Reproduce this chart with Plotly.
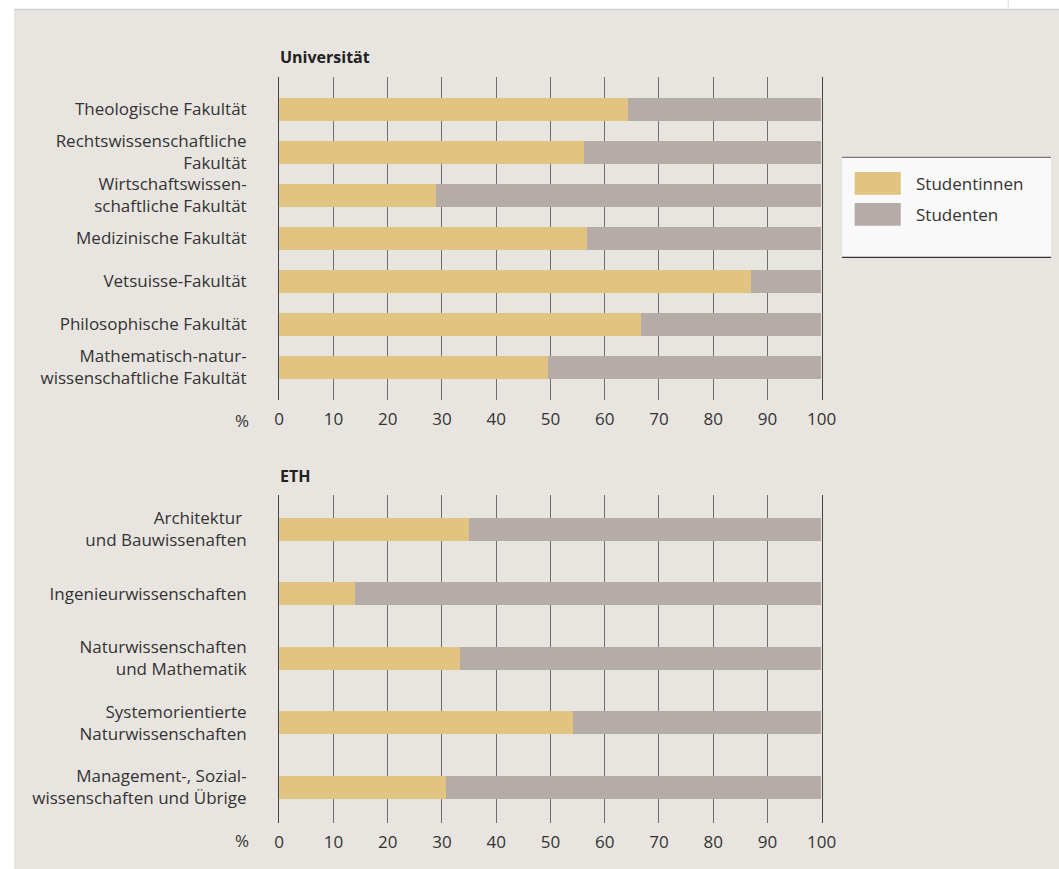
import plotly.graph_objects as go

W, H = 1059, 869
PAGE_W = 1074  # rendered page is squeezed horizontally into the 1059-wide picture

uni_categories = [
    "Theologische Fakultät",
    "Rechtswissenschaftliche<br>Fakultät",
    "Wirtschaftswissen-<br>schaftliche Fakultät",
    "Medizinische Fakultät",
    "Vetsuisse-Fakultät",
    "Philosophische Fakultät",
    "Mathematisch-natur-<br>wissenschaftliche Fakultät",
]
uni_female = [64.3, 56.3, 28.9, 56.8, 87.1, 66.7, 49.6]
uni_male = [round(100 - v, 1) for v in uni_female]

eth_categories = [
    "Architektur <br>und Bauwissenaften",
    "Ingenieurwissenschaften",
    "Naturwissenschaften<br>und Mathematik",
    "Systemorientierte<br>Naturwissenschaften",
    "Management-, Sozial-<br>wissenschaften und Übrige",
]
eth_female = [35.1, 14.0, 33.3, 54.2, 30.7]
eth_male = [round(100 - v, 1) for v in eth_female]

series_names = ["Studentinnen", "Studenten"]
section_titles = ["Universität", "ETH"]
x_ticks = [0, 10, 20, 30, 40, 50, 60, 70, 80, 90, 100]

C_F = "#e0c47f"
C_M = "#b5aca7"
PANEL = "#e8e5e0"
PLOTBG = "#f9f9f9"
TXT = "#333333"
FONT = "Open Sans"
FS = 17


def px(x):
    return x / W


def py(y):
    return 1 - y / H


fig = go.Figure()

fig.add_trace(go.Bar(y=list(range(len(uni_categories))), x=uni_female, orientation="h",
                     marker=dict(color=C_F, line=dict(width=0)), width=0.53,
                     name=series_names[0], xaxis="x", yaxis="y", showlegend=False))
fig.add_trace(go.Bar(y=list(range(len(uni_categories))), x=uni_male, orientation="h",
                     marker=dict(color=C_M, line=dict(width=0)), width=0.53,
                     name=series_names[1], xaxis="x", yaxis="y", showlegend=False))
fig.add_trace(go.Bar(y=list(range(len(eth_categories))), x=eth_female, orientation="h",
                     marker=dict(color=C_F, line=dict(width=0)), width=0.352,
                     name=series_names[0], xaxis="x2", yaxis="y2", showlegend=False))
fig.add_trace(go.Bar(y=list(range(len(eth_categories))), x=eth_male, orientation="h",
                     marker=dict(color=C_M, line=dict(width=0)), width=0.352,
                     name=series_names[1], xaxis="x2", yaxis="y2", showlegend=False))

x0, x1 = px(275.5), px(820.5)

xcommon = dict(range=[0, 100], tickvals=x_ticks, ticktext=[str(t) for t in x_ticks],
               showgrid=True, gridcolor="#6e6e6e", gridwidth=1, zeroline=False,
               showline=False, ticks="outside", ticklen=4, tickcolor="rgba(0,0,0,0)",
               tickfont=dict(family=FONT, size=FS, color=TXT), fixedrange=True)
ycommon = dict(showgrid=False, zeroline=False, showline=True, mirror=True,
               linecolor="#444444", linewidth=1.3, ticks="",
               ticklabelstandoff=28,
               tickfont=dict(family=FONT, size=FS, color=TXT), fixedrange=True)

fig.update_layout(
    width=PAGE_W, height=H, autosize=False,
    margin=dict(l=0, r=0, t=0, b=0),
    paper_bgcolor="white",
    plot_bgcolor=PLOTBG,
    barmode="stack",
    bargap=0,
    showlegend=False,
    font=dict(family=FONT, size=FS, color=TXT),
    xaxis=dict(domain=[x0, x1], anchor="y", **xcommon),
    yaxis=dict(domain=[py(400), py(77)], anchor="x", range=[6.76, -0.75],
               tickvals=list(range(len(uni_categories))), ticktext=uni_categories, **ycommon),
    xaxis2=dict(domain=[x0, x1], anchor="y2", **xcommon),
    yaxis2=dict(domain=[py(822.7), py(495)], anchor="x2", range=[4.55, -0.53],
                tickvals=list(range(len(eth_categories))), ticktext=eth_categories, **ycommon),
)

shapes = []
# panel background
shapes.append(dict(type="rect", xref="paper", yref="paper", x0=px(9), x1=1.0, y0=0, y1=py(9.5),
                   fillcolor=PANEL, line=dict(width=0), layer="below"))
shapes.append(dict(type="line", xref="paper", yref="paper", x0=px(9), x1=1.0, y0=py(9.5), y1=py(9.5),
                   line=dict(color="#d2d0cd", width=1.5), layer="below"))
shapes.append(dict(type="line", xref="paper", yref="paper", x0=px(1008), x1=px(1008), y0=py(0), y1=py(9),
                   line=dict(color="#d8d8d8", width=1), layer="below"))
# legend box
shapes.append(dict(type="rect", xref="paper", yref="paper", x0=px(841), x1=px(1051), y0=py(257.3), y1=py(157.3),
                   fillcolor=PLOTBG, line=dict(width=0), layer="below"))
shapes.append(dict(type="line", xref="paper", yref="paper", x0=px(841), x1=px(1051), y0=py(157.3), y1=py(157.3),
                   line=dict(color="#777777", width=1.2)))
shapes.append(dict(type="line", xref="paper", yref="paper", x0=px(841), x1=px(1051), y0=py(257.3), y1=py(257.3),
                   line=dict(color="#333333", width=1.2)))
legend_colors = [C_F, C_M]
legend_tops = [172, 203]
for col, top in zip(legend_colors, legend_tops):
    shapes.append(dict(type="rect", xref="paper", yref="paper", x0=px(853.7), x1=px(900),
                       y0=py(top + 22.7), y1=py(top), fillcolor=col, line=dict(width=0)))

annotations = []
for name, top in zip(series_names, legend_tops):
    annotations.append(dict(xref="paper", yref="paper", x=px(913), y=py(top + 11.5), text=name,
                            showarrow=False, xanchor="left", yanchor="middle",
                            font=dict(family=FONT, size=FS, color=TXT)))
# section titles
for t, yy in zip(section_titles, [57, 476]):
    annotations.append(dict(xref="paper", yref="paper", x=px(274), y=py(yy), text="<b>" + t + "</b>",
                            showarrow=False, xanchor="left", yanchor="middle",
                            font=dict(family=FONT, size=16, color="#222222")))
# percent labels
for yy in [421, 840]:
    annotations.append(dict(xref="paper", yref="paper", x=px(247), y=py(yy), text="%",
                            showarrow=False, xanchor="right", yanchor="middle",
                            font=dict(family=FONT, size=FS, color=TXT)))

fig.update_layout(shapes=shapes, annotations=annotations)

post = (
    "document.documentElement.style.margin='0';"
    "document.body.style.margin='0';"
    "document.body.style.padding='0';"
    "document.body.style.overflow='hidden';"
)

fig.write_html("out.html",
               config={"responsive": False, "displayModeBar": False},
               post_script=post)
